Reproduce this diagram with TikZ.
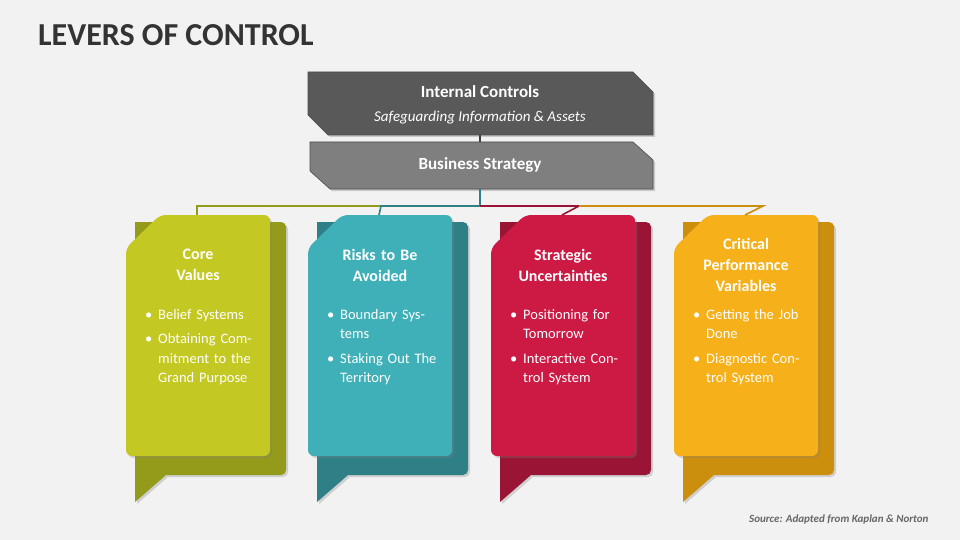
\documentclass[tikz,border=0pt]{standalone}
\usepackage{fontspec}
\setmainfont{Carlito}
\usetikzlibrary{shadows}
\definecolor{bg}{HTML}{F2F2F2}
\definecolor{lime}{HTML}{C3C822}\definecolor{limed}{HTML}{949A1A}
\definecolor{teal1}{HTML}{3FB0B8}\definecolor{teald}{HTML}{2F7F86}
\definecolor{crim}{HTML}{CC1A45}\definecolor{crimd}{HTML}{9A1535}
\definecolor{oran}{HTML}{F5B01A}\definecolor{orand}{HTML}{CC8E0D}
\definecolor{dk}{HTML}{595959}\definecolor{md}{HTML}{7F7F7F}
\tikzset{
  topbox/.style={draw=black!70, line width=0.6pt, drop shadow={opacity=0.35,shadow xshift=2pt,shadow yshift=-2pt}},
  cardtitle/.style={text=white, font=\fontsize{16}{21}\selectfont\bfseries, align=center, text width=130pt},
  bul/.style={text=white, font=\fontsize{14.5}{19.5}\selectfont, text width=112pt, align=left, anchor=north west, inner sep=0pt},
  conn/.style={line width=1.6pt}
}
\newcommand\mycard[6]{%
  \fill[#3, drop shadow={opacity=0.3,shadow xshift=2pt,shadow yshift=-2pt}] (#1+9,222) [rounded corners=5pt] -- (#1+160,222) -- (#1+160,475) [sharp corners] -- (#1+40,475) -- (#1+9,502) -- cycle;
  \fill[#2, rounded corners=6pt, drop shadow={opacity=0.3,shadow xshift=2pt,shadow yshift=-2pt}] (#1,248) -- (#1+34,215) -- (#1+144,215) -- (#1+144,456) -- (#1,456) -- cycle;
  \coordinate (#6) at (#1+71,215);
  \node[cardtitle] (#6t) at (#1+72,265) {#4};
  \node[bul] (#6b) at (#1+19,309) {#5};
}
\newcommand\bi[1]{\hangindent=13pt\hangafter=1\noindent\makebox[13pt][l]{\textbullet}#1\par\vspace{5pt}}
\begin{document}
\begin{tikzpicture}[x=1pt,y=-1pt]
\fill[bg] (0,0) rectangle (960,540);
\useasboundingbox (0,0) rectangle (960,540);
\node[anchor=west, font=\fontsize{32}{36}\selectfont\bfseries, text=black!80, inner sep=0pt] (title) at (38,35) {LEVERS OF CONTROL};
% connectors
\coordinate (hub) at (480,206);
\coordinate (c1h) at (197,206);\coordinate (c2h) at (381,206);
\coordinate (c3h) at (579,206);\coordinate (c4h) at (763,206);
% top boxes
\draw[topbox, fill=dk] (308,72) -- (633,72) -- (653,92) -- (653,135) -- (328,135) -- (308,115) -- cycle;
\node[text=white, font=\fontsize{17}{20}\selectfont\bfseries] (ic) at (480,92) {Internal Controls};
\node[text=white, font=\fontsize{15}{18}\selectfont\itshape] (ics) at (480,118) {Safeguarding Information \& Assets};
\draw[topbox, fill=md] (310,142) -- (633,142) -- (653,160) -- (653,189) -- (330,189) -- (310,171) -- cycle;
\node[text=white, font=\fontsize{17}{20}\selectfont\bfseries] (bs) at (480,165) {Business Strategy};
\coordinate (icb) at (480,135);\coordinate (bst) at (480,142);\coordinate (bsb) at (480,189);
\draw[conn, black!75] (icb) -- (bst);
\mycard{126}{lime}{limed}{Core\\Values}{\bi{Belief Systems}\bi{Obtaining Commitment to the Grand Purpose}}{k1}
\mycard{308}{teal1}{teald}{Risks to Be\\Avoided}{\bi{Boundary Systems}\bi{Staking Out The Territory}}{k2}
\mycard{491}{crim}{crimd}{Strategic\\Uncertainties}{\bi{Positioning for Tomorrow}\bi{Interactive Control System}}{k3}
\mycard{674}{oran}{orand}{Critical\\Performance\\Variables}{\bi{Getting the Job Done}\bi{Diagnostic Control System}}{k4}
\draw[conn, limed] (c2h) -- (c1h) -- (k1);
\draw[conn, teald] (hub) -- (c2h) -- (k2);
\draw[conn, teald] (bsb) -- (hub);
\draw[conn, crimd] (hub) -- (c3h) -- (k3);
\draw[conn, orand] (c3h) -- (c4h) -- (k4);
\node[anchor=east, font=\fontsize{11}{13}\selectfont\bfseries\itshape, text=black!60] (src) at (932,520) {Source: Adapted from Kaplan \& Norton};
\end{tikzpicture}
\end{document}
